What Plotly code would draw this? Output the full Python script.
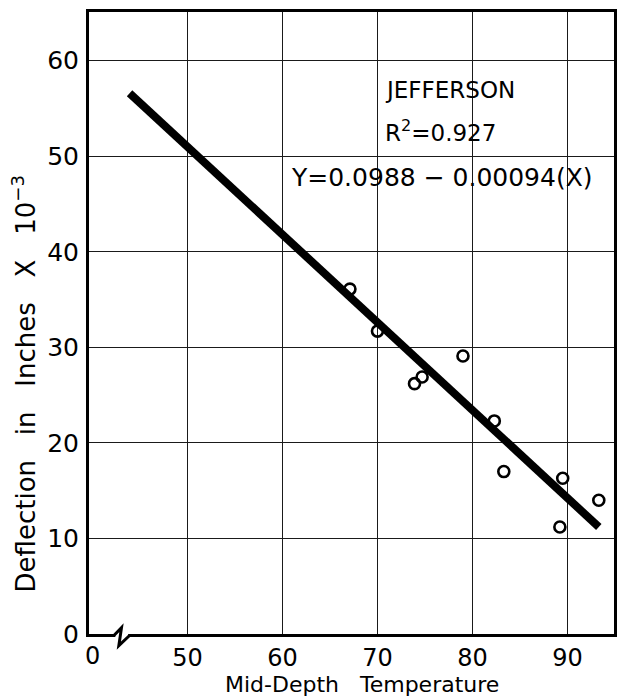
import plotly.graph_objects as go

# ---- data ----
temps = [67.1, 70.0, 73.9, 74.7, 79.0, 82.3, 83.3, 89.5, 89.2, 93.3]
deflection = [36.1, 31.7, 26.2, 26.9, 29.1, 22.3, 17.0, 16.3, 11.2, 14.0]
fit_x = [43.9, 93.3]
fit_y = [56.6, 11.2]
x_ticks = [50, 60, 70, 80, 90]
y_ticks = [0, 10, 20, 30, 40, 50, 60]
x_range = [39.63, 94.9]
y_range = [0, 65.1]

FONT = "DejaVu Sans"

fig = go.Figure()
fig.add_trace(go.Scatter(
    x=temps, y=deflection, mode="markers",
    marker=dict(symbol="circle-open", size=11, color="black",
                line=dict(width=2.6, color="black")),
    showlegend=False, hoverinfo="skip"))
fig.add_trace(go.Scatter(
    x=fit_x, y=fit_y, mode="lines",
    line=dict(color="black", width=8),
    showlegend=False, hoverinfo="skip"))

axis_common = dict(
    showgrid=True, gridcolor="#1a1a1a", gridwidth=1.1,
    showline=True, linecolor="black", linewidth=3, mirror=True,
    ticks="", zeroline=False,
    tickfont=dict(family=FONT, size=24, color="black"),
)
fig.update_xaxes(range=x_range, tickvals=x_ticks, ticklabelstandoff=0, **axis_common)
fig.update_yaxes(range=y_range, tickvals=y_ticks, ticklabelstandoff=2,
                 **{**axis_common, "tickfont": dict(family=FONT, size=25, color="black")})

# axis break on the x axis
bx0, bx1 = 42.35, 43.8
fig.add_shape(type="rect", xref="x", yref="paper", x0=bx0 + 0.05, x1=bx1 - 0.05,
              y0=-0.012, y1=0.008, fillcolor="white", line=dict(width=0), layer="above")
fig.add_shape(type="path", xref="x", yref="paper",
              path=f"M {bx0 - 0.1},-0.0024 L 43.05,0.0101 L 42.77,-0.0188 L {bx1 + 0.1},-0.0024",
              line=dict(color="black", width=3), layer="above")

annotations = [
    dict(text="JEFFERSON", x=70.62, y=56.9, xref="x", yref="y",
         xanchor="left", yanchor="middle", showarrow=False,
         font=dict(family=FONT, size=23, color="black")),
    dict(text="R<sup>2</sup>=0.927", x=70.62, y=52.6, xref="x", yref="y",
         xanchor="left", yanchor="middle", showarrow=False,
         font=dict(family=FONT, size=23, color="black")),
    dict(text="Y=0.0988 − 0.00094(X)", x=60.67, y=47.8, xref="x", yref="y",
         xanchor="left", yanchor="middle", showarrow=False,
         font=dict(family=FONT, size=25, color="black")),
    dict(text="0", x=40.05, y=-0.0354, xref="x", yref="paper",
         xanchor="center", yanchor="middle", showarrow=False,
         font=dict(family=FONT, size=24, color="black")),
    dict(text="Mid-Depth   Temperature", x=0.5208, y=-0.0805, xref="paper", yref="paper",
         xanchor="center", yanchor="middle", showarrow=False,
         font=dict(family=FONT, size=22, color="black")),
    dict(text="Deflection   in   Inches   X   10<sup>−3</sup>", x=-0.124, y=0.4027,
         xref="paper", yref="paper", textangle=-90,
         xanchor="center", yanchor="middle", showarrow=False,
         font=dict(family=FONT, size=26, color="black")),
]

fig.update_layout(
    width=619, height=700,
    margin=dict(l=89, r=2, t=12, b=66),
    paper_bgcolor="white", plot_bgcolor="white",
    annotations=annotations,
    font=dict(family=FONT, color="black"),
)

fig.write_html("out.html")
